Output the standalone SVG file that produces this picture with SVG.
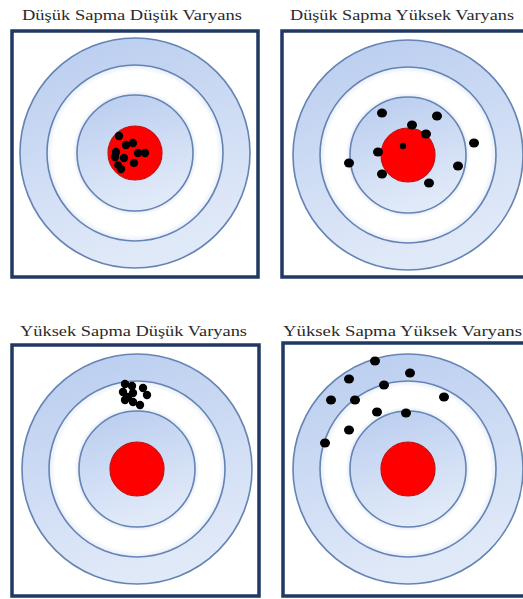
<svg xmlns="http://www.w3.org/2000/svg" xmlns:xlink="http://www.w3.org/1999/xlink" width="523" height="599" viewBox="0 0 523 599">
<style>
.title{font-family:"Liberation Serif","Times New Roman",serif;font-size:15px;fill:#2a2a2a;}
.frame{fill:#ffffff;stroke:#1f3864;stroke-width:3.5;}
.ring{stroke:#6584b4;stroke-width:1.6;}
.dot{fill:#000000;}
</style>
<defs>
<linearGradient id="blueG" x1="0" y1="0" x2="0.3" y2="1">
<stop offset="0" stop-color="#b8ccef"/>
<stop offset="1" stop-color="#e0e9f8"/>
</linearGradient>
<radialGradient id="whiteG" cx="0.5" cy="0.5" r="0.5">
<stop offset="0.66" stop-color="#e3ebf8"/>
<stop offset="0.71" stop-color="#ffffff"/>
<stop offset="0.93" stop-color="#ffffff"/>
<stop offset="1" stop-color="#e6edf9"/>
</radialGradient>
<g id="target">
<circle class="ring" r="115" fill="url(#blueG)"/>
<circle class="ring" r="88" fill="url(#whiteG)"/>
<circle class="ring" r="58" fill="url(#blueG)"/>
<circle r="27" fill="#ff0000" stroke="#c41010" stroke-width="1.2"/>
</g>
</defs>
<rect width="523" height="599" fill="#ffffff"/>

<g id="panel1">
<text class="title" x="22" y="20" textLength="220" lengthAdjust="spacingAndGlyphs">Düşük Sapma Düşük Varyans</text>
<rect class="frame" x="12" y="31" width="246" height="246"/>
<use xlink:href="#target" x="135" y="153"/>
<g class="dot">
<circle cx="119" cy="136" r="4.2"/><circle cx="126" cy="145" r="4.2"/><circle cx="133" cy="143" r="4.2"/>
<circle cx="116" cy="152" r="4.2"/><circle cx="115" cy="157" r="4.2"/><circle cx="124" cy="158" r="4.2"/>
<circle cx="138" cy="153" r="4.2"/><circle cx="145" cy="153" r="4.2"/><circle cx="134" cy="163" r="4"/>
<circle cx="121" cy="169" r="4.2"/><circle cx="118" cy="165" r="3.8"/>
</g>
</g>

<g id="panel2">
<text class="title" x="290" y="20" textLength="224" lengthAdjust="spacingAndGlyphs">Düşük Sapma Yüksek Varyans</text>
<rect class="frame" x="282" y="31" width="250" height="246"/>
<use xlink:href="#target" x="408" y="155"/>
<g class="dot">
<ellipse cx="382" cy="113" rx="5" ry="4.5"/><ellipse cx="437" cy="116" rx="5" ry="4.5"/>
<ellipse cx="412" cy="125" rx="5" ry="4.5"/><ellipse cx="426" cy="134" rx="5" ry="4.5"/>
<circle cx="403" cy="146" r="3.2"/><ellipse cx="474" cy="143" rx="5" ry="4.5"/>
<ellipse cx="378" cy="152" rx="5" ry="4.5"/><ellipse cx="349" cy="163" rx="5" ry="4.5"/>
<ellipse cx="458" cy="166" rx="5" ry="4.5"/><ellipse cx="382" cy="174" rx="5" ry="4.5"/>
<ellipse cx="429" cy="183" rx="5" ry="4.5"/>
</g>
</g>

<g id="panel3">
<text class="title" x="20" y="336" textLength="227" lengthAdjust="spacingAndGlyphs">Yüksek Sapma Düşük Varyans</text>
<rect class="frame" x="12" y="345" width="247" height="251"/>
<use xlink:href="#target" x="137" y="469"/>
<g class="dot">
<circle cx="125" cy="384" r="4.2"/><circle cx="132" cy="386" r="4.2"/><circle cx="143" cy="388" r="4.2"/>
<circle cx="123" cy="392" r="4.2"/><circle cx="133" cy="393" r="4.2"/><circle cx="147" cy="395" r="4.2"/>
<circle cx="128" cy="397" r="4.2"/><circle cx="125" cy="400" r="4.2"/><circle cx="133" cy="402" r="4.2"/>
<circle cx="140" cy="405" r="4.2"/>
</g>
</g>

<g id="panel4">
<text class="title" x="283" y="336" textLength="239" lengthAdjust="spacingAndGlyphs">Yüksek Sapma Yüksek Varyans</text>
<rect class="frame" x="283" y="343" width="249" height="253"/>
<use xlink:href="#target" x="408" y="469"/>
<g class="dot">
<ellipse cx="375" cy="361" rx="5" ry="4.5"/><ellipse cx="410" cy="373" rx="5" ry="4.5"/>
<ellipse cx="349" cy="379" rx="5" ry="4.5"/><ellipse cx="384" cy="385" rx="5" ry="4.5"/>
<ellipse cx="444" cy="397" rx="5" ry="4.5"/><ellipse cx="331" cy="400" rx="5" ry="4.5"/>
<ellipse cx="355" cy="400" rx="5" ry="4.5"/><ellipse cx="377" cy="412" rx="5" ry="4.5"/>
<ellipse cx="406" cy="413" rx="5" ry="4.5"/><ellipse cx="349" cy="430" rx="5" ry="4.5"/>
<ellipse cx="325" cy="443" rx="5" ry="4.5"/>
</g>
</g>

<g id="connectors"/>
</svg>
